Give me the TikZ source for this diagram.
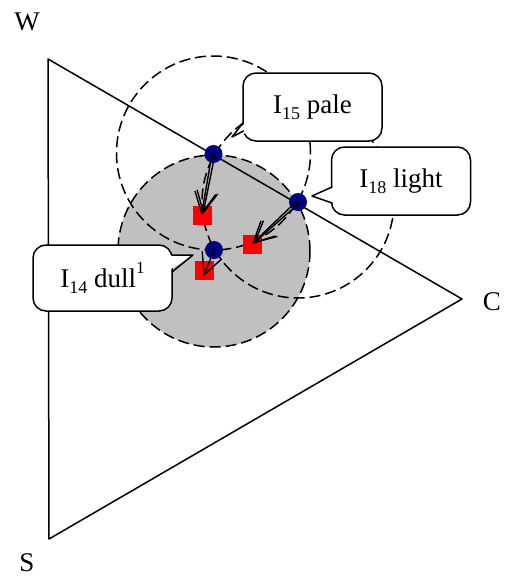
\documentclass[tikz,border=0pt]{standalone}
\usepackage{fontspec}
\setmainfont{Liberation Serif}
\usetikzlibrary{arrows.meta}
\definecolor{dotblue}{RGB}{0,0,128}
\definecolor{diskgray}{RGB}{192,192,192}
\newcommand{\sbs}[1]{\raisebox{-0.22em}{\fontsize{18}{18}\selectfont #1}}
\newcommand{\sps}[1]{\raisebox{0.5em}{\fontsize{17}{17}\selectfont #1}}
\begin{document}
\begin{tikzpicture}[x=1pt,y=-1pt,
  every node/.style={font=\fontsize{27}{30}\selectfont},
  ring/.style={draw, line width=1.5pt, dash pattern=on 11pt off 5pt},
  edge/.style={draw, line width=1.5pt, line join=round, line cap=round},
  dot/.style={circle, fill=dotblue, minimum size=18pt, inner sep=0pt},
  sq/.style={rectangle, fill=red, minimum size=19pt, inner sep=0pt},
  arr/.style={line width=1.4pt, -{Straight Barb[length=21pt,width=21pt]}},
  callout/.style={draw, fill=white, line width=1.5pt, rounded corners=13pt, minimum width=139pt, minimum height=68pt, inner sep=0pt},
  lbl/.style={inner sep=0pt}
]
\useasboundingbox (0,0) rectangle (507,579);
% shaded circle and dashed circles
\fill[diskgray] (214,251) circle[radius=96pt];
\draw[ring] (213.5,153) circle[radius=97pt];
\draw[ring] (214,251) circle[radius=96pt];
\draw[ring] (298,202) circle[radius=96pt];
% triangle
\coordinate (W) at (48,59);
\coordinate (C) at (462,299);
\coordinate (S) at (49,539);
\draw[edge] (W) -- (C) -- (S) -- cycle;
\node[lbl] (lW) at (27,22) {W};
\node[lbl] (lC) at (492,302) {C};
\node[lbl] (lS) at (27,563) {S};
% squares and dots
\node[sq] (s1) at (202,215) {};
\node[sq] (s2) at (252,244) {};
\node[sq] (s3) at (204.5,270) {};
\node[dot] (d15) at (213.5,154) {};
\node[dot] (d18) at (298,202) {};
\node[dot] (d14) at (214,250) {};
% arrows
\draw[arr] ([shift={(-1.5,0)}]d15.center) -- ([shift={(-0.5,0)}]s1.center);
\draw[arr] ([shift={(1.5,0)}]d15.center) -- ([shift={(1,-1)}]s1.center);
\draw[arr] ([shift={(-1,-1.2)}]d18.center) -- ([shift={(0,0)}]s2.center);
\draw[arr] ([shift={(1,1.2)}]d18.center) -- ([shift={(1.5,-0.5)}]s2.center);
\draw[arr] (d14.center) -- ([shift={(-1,6)}]s3.center);
% callouts
\node[callout] (c15) at (312.5,107) {I\sbs{15} pale};
\fill[white] (246,122) -- (232,137) -- (246,133) -- cycle;
\draw[edge] (243,123) -- (232,137) -- (243.5,131);
\node[callout] (c18) at (401,181) {I\sbs{18} light};
\fill[white] (335,187) -- (312,196) -- (335,203) -- cycle;
\draw[edge] (332,187) -- (312,196) -- (332,203);
\node[callout, minimum height=66pt] (c14) at (102.5,278) {I\sbs{14} dull\sps{1}};
\fill[white] (166,255) -- (193,255) -- (166,272) -- cycle;
\draw[edge] (171.6,255) -- (193,255) -- (172,272);
\end{tikzpicture}
\end{document}
